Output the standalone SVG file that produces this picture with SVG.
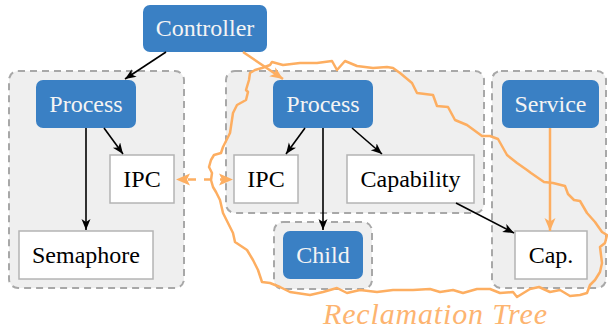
<svg xmlns="http://www.w3.org/2000/svg" width="608" height="331" viewBox="0 0 608 331">
  <style>
    .grp { fill: #efefef; stroke: #a8a8a8; stroke-width: 2; stroke-dasharray: 7 5; }
    .blue { fill: #3a80c4; }
    .white { fill: #ffffff; stroke: #b4b4b4; stroke-width: 1.5; }
    .lbl { font-family: "Liberation Serif", "DejaVu Serif", serif; font-size: 24px; text-anchor: middle; }
    .lw { fill: #f4f4f4; }
    .lb { fill: #000000; }
    .edge { stroke: #000; stroke-width: 1.6; fill: none; }
    .oedge { stroke: #fdae61; stroke-width: 2.5; fill: none; }
    .tree { stroke: #fdae61; stroke-width: 2.5; fill: none; stroke-linejoin: round; }
  </style>
  <defs>
    <marker id="ah" markerUnits="userSpaceOnUse" markerWidth="12" markerHeight="10" refX="11" refY="4.5" orient="auto">
      <path d="M0,0 L11,4.5 L0,9 L3,4.5 z" fill="#000"/>
    </marker>
    <marker id="oah" markerUnits="userSpaceOnUse" markerWidth="14" markerHeight="12" refX="13" refY="5.5" orient="auto">
      <path d="M0,0 L13,5.5 L0,11 L3.5,5.5 z" fill="#fdae61"/>
    </marker>
  </defs>

  <!-- container groups -->
  <rect class="grp" x="9" y="71" width="175" height="217" rx="9"/>
  <rect class="grp" x="226" y="71" width="258" height="142" rx="9"/>
  <rect class="grp" x="274" y="222" width="98" height="67" rx="9"/>
  <rect class="grp" x="492" y="71" width="114" height="217" rx="9"/>

  <!-- reclamation tree outline -->
  <path class="tree" d="M246,90 L249,80 L250,73 L255,70 L262,68 L270,65 L272,62 L283,65 L300,63 L317,63 L332,61 L337,70 L345,61 L357,66 L373,68 L387,67 L393,68 L400,73 L412,83 L417,93 L433,95 L437,106 L448,107 L455,120 L467,125 L482,136 L490,136 L498,139 L507,155 L517,163 L527,170 L531,173 L544,182 L553,183 L565,186 L568,194 L574,200 L580,201 L587,213 L595,222 L602,232 L607,235 L605,243 L600,247 L602,263 L600,272 L595,280 L590,285 L587,293 L580,295 L570,296 L560,290 L550,292 L539,287 L530,289 L517,297 L513,292 L500,293 L490,289 L477,289 L463,293 L453,290 L440,292 L430,289 L413,290 L393,290 L377,292 L360,290 L347,293 L337,288 L323,292 L310,295 L290,292 L280,287 L270,283 L262,282 L258,270 L253,260 L247,250 L235,242 L233,233 L223,213 L220,200 L216,192 L213,187 L211,180 L212,173 L209,167 L211,160 L214,155 L221,153 L223,147 L230,133 L233,113 L237,105 L246,100 L248,92 Z"/>

  <!-- nodes -->
  <g id="controller">
    <rect class="blue" x="143" y="5" width="124" height="47" rx="7"/>
    <text class="lbl lw" x="205" y="36">Controller</text>
  </g>
  <g id="process-left">
    <rect class="blue" x="36" y="80" width="100" height="48" rx="7"/>
    <text class="lbl lw" x="86" y="112">Process</text>
  </g>
  <g id="ipc-left">
    <rect class="white" x="110" y="155" width="64" height="48"/>
    <text class="lbl lb" x="142" y="187">IPC</text>
  </g>
  <g id="semaphore">
    <rect class="white" x="19" y="231" width="134" height="48"/>
    <text class="lbl lb" x="86" y="263">Semaphore</text>
  </g>
  <g id="process-mid">
    <rect class="blue" x="273" y="80" width="100" height="48" rx="7"/>
    <text class="lbl lw" x="323" y="112">Process</text>
  </g>
  <g id="ipc-mid">
    <rect class="white" x="234" y="155" width="64" height="48"/>
    <text class="lbl lb" x="266" y="187">IPC</text>
  </g>
  <g id="capability">
    <rect class="white" x="347" y="155" width="127" height="48"/>
    <text class="lbl lb" x="410.5" y="187">Capability</text>
  </g>
  <g id="child">
    <rect class="blue" x="283" y="231" width="80" height="48" rx="7"/>
    <text class="lbl lw" x="323" y="263">Child</text>
  </g>
  <g id="service">
    <rect class="blue" x="502" y="80" width="97" height="48" rx="7"/>
    <text class="lbl lw" x="550.5" y="112">Service</text>
  </g>
  <g id="cap">
    <rect class="white" x="515" y="231" width="72" height="48"/>
    <text class="lbl lb" x="551" y="263">Cap.</text>
  </g>

  <!-- connectors -->
  <g id="connectors">
    <line class="edge" x1="166" y1="52" x2="125" y2="79" marker-end="url(#ah)"/>
    <line class="edge" x1="104" y1="128" x2="123" y2="154" marker-end="url(#ah)"/>
    <line class="edge" x1="86" y1="128" x2="86" y2="230" marker-end="url(#ah)"/>
    <line class="edge" x1="305" y1="128" x2="286" y2="154" marker-end="url(#ah)"/>
    <line class="edge" x1="323" y1="128" x2="323" y2="230" marker-end="url(#ah)"/>
    <line class="edge" x1="352" y1="128" x2="382" y2="154" marker-end="url(#ah)"/>
    <line class="edge" x1="456" y1="203" x2="514" y2="233" marker-end="url(#ah)"/>
    <line class="oedge" x1="243" y1="52" x2="283" y2="79" marker-end="url(#oah)"/>
    <line class="oedge" x1="550" y1="128" x2="550" y2="231" marker-end="url(#oah)"/>
    <!-- dashed IPC link -->
    <line class="oedge" x1="188" y1="179.5" x2="222" y2="179.5" stroke-width="3.5" stroke-dasharray="8 8"/>
    <path d="M176,179.5 L190,173.5 L187,179.5 L190,185.5 z" fill="#fdae61"/>
    <path d="M233,179.5 L219,173.5 L222,179.5 L219,185.5 z" fill="#fdae61"/>
  </g>

  <text x="435" y="324" font-family="Liberation Serif, DejaVu Serif, serif" font-size="30" font-style="italic" fill="#fdb470" text-anchor="middle" textLength="224" lengthAdjust="spacing">Reclamation Tree</text>
</svg>
